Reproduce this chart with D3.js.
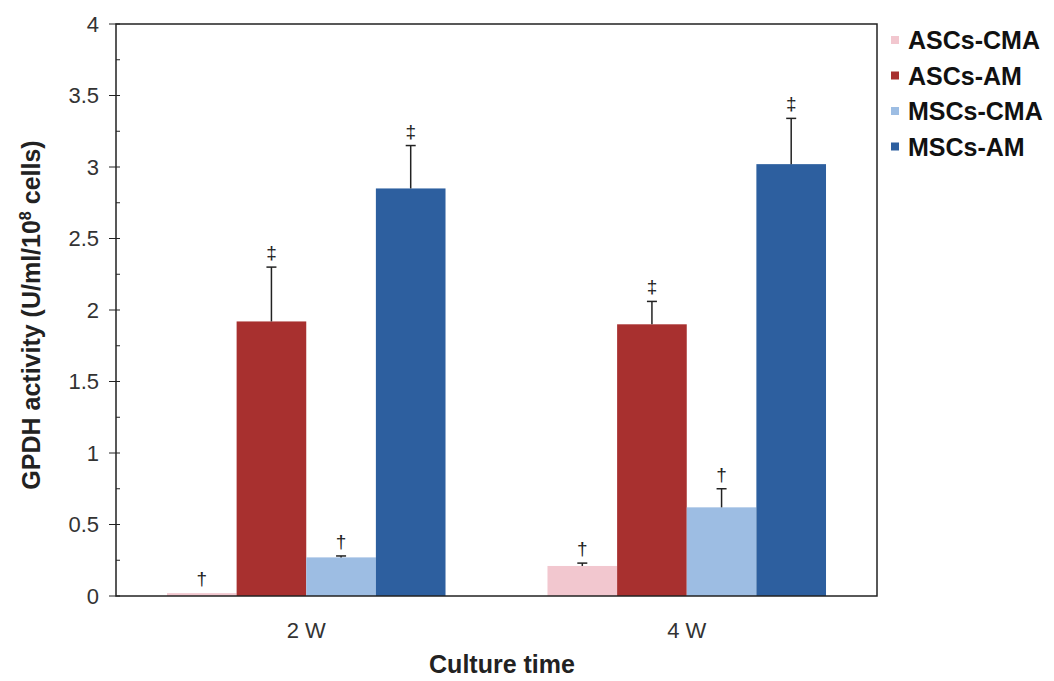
<!DOCTYPE html>
<html>
<head>
<meta charset="utf-8">
<script src="https://cdn.jsdelivr.net/npm/d3@7"></script>
<style>
  body { margin: 0; background: #fff; }
  svg { font-family: Arial, "Liberation Sans", sans-serif; }
</style>
</head>
<body>
<svg id="chart" width="1054" height="681"></svg>
<script>
// chart data
const weeks = ["2 W", "4 W"];
const groups = ["ASCs-CMA", "ASCs-AM", "MSCs-CMA", "MSCs-AM"];
const colors = ["#f2c7cf", "#a8302f", "#9dbde3", "#2d5f9f"];
const means = [
  [0.02, 1.92, 0.27, 2.85],   // 2 W
  [0.21, 1.90, 0.62, 3.02]    // 4 W
];
const errors = [
  [0.00, 0.38, 0.01, 0.30],
  [0.02, 0.16, 0.13, 0.32]
];
const marks = [
  ["†", "‡", "†", "‡"],
  ["†", "‡", "†", "‡"]
];
const yTicks = [0, 0.5, 1, 1.5, 2, 2.5, 3, 3.5, 4];
const yMinor = d3.range(0.25, 4, 0.5);

const svg = d3.select("#chart");
const plotL = 116, plotR = 877, plotT = 24, plotB = 596;

const x0 = d3.scaleBand().domain(weeks).range([plotL, plotR])
  .paddingInner(0.268).paddingOuter(0.134);
const x1 = d3.scaleBand().domain(groups).range([0, x0.bandwidth()]);
const y = d3.scaleLinear().domain([0, 4]).range([plotB, plotT]);

// flatten the table for drawing
const rows = [];
weeks.forEach((w, i) => groups.forEach((g, j) => rows.push({
  week: w, group: g, color: colors[j], v: means[i][j], e: errors[i][j], mark: marks[i][j]
})));

// bars
svg.append("g").selectAll("rect")
  .data(rows).enter().append("rect")
  .attr("x", d => x0(d.week) + x1(d.group))
  .attr("y", d => y(d.v))
  .attr("width", x1.bandwidth())
  .attr("height", d => plotB - y(d.v))
  .attr("fill", d => d.color);

// error bars (upper only)
const eb = svg.append("g").attr("stroke", "#222").attr("stroke-width", 1.5);
rows.forEach(d => {
  if (d.e <= 0) return;
  const cx = x0(d.week) + x1(d.group) + x1.bandwidth() / 2;
  eb.append("line").attr("x1", cx).attr("x2", cx)
    .attr("y1", y(d.v)).attr("y2", y(d.v + d.e));
  eb.append("line").attr("x1", cx - 5).attr("x2", cx + 5)
    .attr("y1", y(d.v + d.e)).attr("y2", y(d.v + d.e));
});

// significance marks
svg.append("g").selectAll("text")
  .data(rows).enter().append("text")
  .attr("x", d => x0(d.week) + x1(d.group) + x1.bandwidth() / 2)
  .attr("y", d => y(d.v + d.e) - 8)
  .attr("text-anchor", "middle")
  .attr("font-size", 19)
  .attr("fill", "#222")
  .text(d => d.mark);

// frame
svg.append("rect")
  .attr("x", plotL).attr("y", plotT)
  .attr("width", plotR - plotL).attr("height", plotB - plotT)
  .attr("fill", "none").attr("stroke", "#222").attr("stroke-width", 1.5);

// y axis ticks
const ya = svg.append("g").attr("stroke", "#222").attr("stroke-width", 1);
yTicks.forEach(t => ya.append("line")
  .attr("x1", plotL - 7).attr("x2", plotL + 4).attr("y1", y(t)).attr("y2", y(t)));
yMinor.forEach(t => ya.append("line")
  .attr("x1", plotL).attr("x2", plotL + 4).attr("y1", y(t)).attr("y2", y(t)));

svg.append("g").selectAll("text")
  .data(yTicks).enter().append("text")
  .attr("x", plotL - 17).attr("y", d => y(d))
  .attr("dy", "0.35em")
  .attr("text-anchor", "end")
  .attr("font-size", 22).attr("fill", "#333")
  .text(d => d);

// x labels
svg.append("g").selectAll("text")
  .data(weeks).enter().append("text")
  .attr("x", d => x0(d) + x0.bandwidth() / 2)
  .attr("y", 638)
  .attr("text-anchor", "middle")
  .attr("font-size", 22).attr("fill", "#333")
  .text(d => d);

// axis titles
svg.append("text")
  .attr("x", 502).attr("y", 673)
  .attr("text-anchor", "middle")
  .attr("font-size", 25).attr("font-weight", "bold").attr("fill", "#222")
  .text("Culture time");

const yt = svg.append("text")
  .attr("transform", "translate(40,315) rotate(-90)")
  .attr("text-anchor", "middle")
  .attr("font-size", 25).attr("font-weight", "bold").attr("fill", "#222");
yt.append("tspan").text("GPDH activity (U/ml/10");
yt.append("tspan").attr("dy", -9).attr("font-size", 16).text("8");
yt.append("tspan").attr("dy", 9).text(" cells)");

// legend
const lg = svg.append("g").selectAll("g")
  .data(groups).enter().append("g")
  .attr("transform", (d, i) => "translate(891," + (40 + i * 35.5) + ")");
lg.append("rect")
  .attr("x", 0).attr("y", -4).attr("width", 8).attr("height", 8)
  .attr("fill", (d, i) => colors[i]);
lg.append("text")
  .attr("x", 17).attr("dy", "0.36em")
  .attr("font-size", 25).attr("font-weight", "bold").attr("fill", "#111")
  .text(d => d);
</script>
</body>
</html>
